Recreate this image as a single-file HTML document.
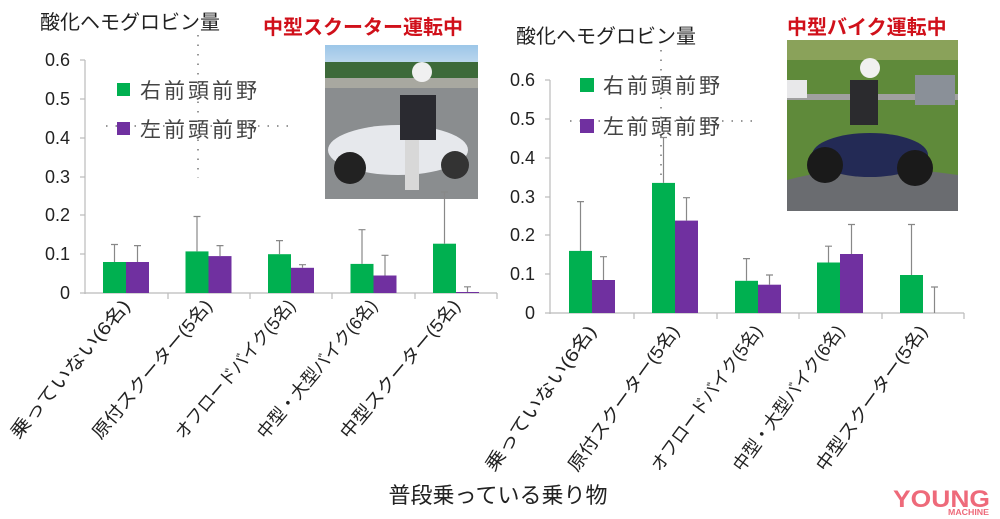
<!DOCTYPE html>
<html><head><meta charset="utf-8"><style>
html,body{margin:0;padding:0;background:#fff}
svg{display:block}
text{font-family:"Liberation Sans","Noto Sans CJK JP",sans-serif}
</style></head><body>
<svg width="1000" height="519" viewBox="0 0 1000 519" xmlns="http://www.w3.org/2000/svg">
<defs>
<linearGradient id="sky" x1="0" y1="0" x2="0" y2="1"><stop offset="0" stop-color="#9cc6e8"/><stop offset="1" stop-color="#c9def0"/></linearGradient>
</defs>
<line x1="198" y1="35" x2="198" y2="178" stroke="#777" stroke-width="1.5" stroke-dasharray="1.5,8"/>
<line x1="106" y1="126" x2="292" y2="126" stroke="#777" stroke-width="1.5" stroke-dasharray="1.5,8"/>
<line x1="661" y1="50" x2="661" y2="240" stroke="#777" stroke-width="1.5" stroke-dasharray="1.5,8"/>
<line x1="570" y1="121" x2="752" y2="121" stroke="#777" stroke-width="1.5" stroke-dasharray="1.5,8"/>

<text x="40" y="29" font-size="20" fill="#222">酸化ヘモグロビン量</text>
<text x="516" y="43" font-size="20" fill="#222">酸化ヘモグロビン量</text>
<text x="263" y="34" font-size="20" font-weight="bold" fill="#d0101a">中型スクーター運転中</text>
<text x="787" y="34" font-size="20" font-weight="bold" fill="#d0101a">中型バイク運転中</text>

<g>
<rect x="325" y="45" width="153" height="154" fill="#8a8d8f"/>
<rect x="325" y="45" width="153" height="25" fill="url(#sky)"/>
<rect x="325" y="62" width="153" height="16" fill="#3d6a3a"/>
<rect x="325" y="78" width="153" height="10" fill="#a8a8a0"/>
<ellipse cx="398" cy="150" rx="70" ry="25" fill="#e6e8ec"/>
<circle cx="350" cy="168" r="16" fill="#222"/>
<circle cx="455" cy="165" r="14" fill="#333"/>
<rect x="400" y="95" width="36" height="45" fill="#2a2a30"/>
<circle cx="422" cy="72" r="10" fill="#f0f0f0"/>
<rect x="405" y="140" width="14" height="50" fill="#d8d8d8"/>
</g>
<g>
<rect x="787" y="40" width="171" height="171" fill="#5f8a3a"/>
<rect x="787" y="40" width="171" height="20" fill="#8aa25a"/>
<rect x="787" y="94" width="171" height="6" fill="#a0a0a0"/>
<path d="M787 180 Q860 160 958 175 L958 211 L787 211 Z" fill="#6a6c70"/>
<rect x="787" y="80" width="20" height="18" fill="#e8e8ea"/>
<ellipse cx="870" cy="155" rx="58" ry="22" fill="#232a55"/>
<circle cx="825" cy="165" r="18" fill="#1a1a1a"/>
<circle cx="915" cy="168" r="18" fill="#1a1a1a"/>
<rect x="850" y="80" width="28" height="45" fill="#2b2b2e"/>
<circle cx="870" cy="68" r="10" fill="#f0f0f0"/>
<rect x="915" y="75" width="40" height="30" fill="#8a9098"/>
</g>

<rect x="117" y="83" width="13" height="13" fill="#00b050"/>
<text x="140" y="98" font-size="21" fill="#444" letter-spacing="3">右前頭前野</text>
<rect x="117" y="122" width="13" height="13" fill="#7030a0"/>
<text x="140" y="137" font-size="21" fill="#444" letter-spacing="3">左前頭前野</text>
<rect x="580" y="78" width="14" height="14" fill="#00b050"/>
<text x="603" y="93" font-size="21" fill="#444" letter-spacing="3">右前頭前野</text>
<rect x="580" y="119" width="14" height="14" fill="#7030a0"/>
<text x="603" y="134" font-size="21" fill="#444" letter-spacing="3">左前頭前野</text>

<g stroke="#bbb" stroke-width="1.2">
<line x1="85" y1="60" x2="85" y2="294"/>
<line x1="85" y1="293" x2="497" y2="293"/>
<line x1="80" y1="60" x2="85" y2="60"/><line x1="80" y1="99" x2="85" y2="99"/><line x1="80" y1="138" x2="85" y2="138"/><line x1="80" y1="177" x2="85" y2="177"/><line x1="80" y1="215" x2="85" y2="215"/><line x1="80" y1="254" x2="85" y2="254"/><line x1="80" y1="293" x2="85" y2="293"/>
<line x1="168" y1="293" x2="168" y2="299"/><line x1="250" y1="293" x2="250" y2="299"/><line x1="332" y1="293" x2="332" y2="299"/><line x1="415" y1="293" x2="415" y2="299"/><line x1="497" y1="293" x2="497" y2="299"/>
</g>
<g font-size="18" fill="#222" text-anchor="end">
<text x="70" y="66">0.6</text><text x="70" y="105">0.5</text><text x="70" y="144">0.4</text><text x="70" y="183">0.3</text><text x="70" y="221">0.2</text><text x="70" y="260">0.1</text><text x="70" y="299">0</text>
</g>
<g fill="#00b050">
<rect x="103" y="262" width="23" height="31"/>
<rect x="185.5" y="251.4" width="23" height="41.6"/>
<rect x="268" y="254.2" width="23" height="38.8"/>
<rect x="350.5" y="263.9" width="23" height="29.1"/>
<rect x="433" y="243.7" width="23" height="49.3"/>
</g>
<g fill="#7030a0">
<rect x="126" y="262" width="23" height="31"/>
<rect x="208.5" y="256.1" width="23" height="36.9"/>
<rect x="291" y="267.8" width="23" height="25.2"/>
<rect x="373.5" y="275.5" width="23" height="17.5"/>
<rect x="456" y="292" width="23" height="1"/>
</g>
<g stroke="#888" stroke-width="1.2">
<path d="M114.5 262V244.5M111 244.5h7"/>
<path d="M137.5 262V245.6M134 245.6h7"/>
<path d="M197 251.4V216.5M193.5 216.5h7"/>
<path d="M220 256.1V245.6M216.5 245.6h7"/>
<path d="M279.5 254.2V240.6M276 240.6h7"/>
<path d="M302.5 267.8V264.7M299 264.7h7"/>
<path d="M362 263.9V229.7M358.5 229.7h7"/>
<path d="M385 275.5V255.3M381.5 255.3h7"/>
<path d="M444.5 243.7V192M441 192h7"/>
<path d="M467.5 292V286.8M464 286.8h7"/>
</g>

<g stroke="#bbb" stroke-width="1.2">
<line x1="550" y1="80" x2="550" y2="314"/>
<line x1="550" y1="313" x2="964" y2="313"/>
<line x1="545" y1="80" x2="550" y2="80"/><line x1="545" y1="119" x2="550" y2="119"/><line x1="545" y1="158" x2="550" y2="158"/><line x1="545" y1="197" x2="550" y2="197"/><line x1="545" y1="235" x2="550" y2="235"/><line x1="545" y1="274" x2="550" y2="274"/><line x1="545" y1="313" x2="550" y2="313"/>
<line x1="634" y1="313" x2="634" y2="319"/><line x1="717" y1="313" x2="717" y2="319"/><line x1="799" y1="313" x2="799" y2="319"/><line x1="882" y1="313" x2="882" y2="319"/><line x1="964" y1="313" x2="964" y2="319"/>
</g>
<g font-size="18" fill="#222" text-anchor="end">
<text x="535" y="86">0.6</text><text x="535" y="125">0.5</text><text x="535" y="164">0.4</text><text x="535" y="203">0.3</text><text x="535" y="241">0.2</text><text x="535" y="280">0.1</text><text x="535" y="319">0</text>
</g>
<g fill="#00b050">
<rect x="569" y="250.9" width="23" height="62.1"/>
<rect x="652" y="182.9" width="23" height="130.1"/>
<rect x="735" y="280.8" width="23" height="32.2"/>
<rect x="817" y="262.5" width="23" height="50.5"/>
<rect x="900" y="275" width="23" height="38"/>
</g>
<g fill="#7030a0">
<rect x="592" y="280" width="23" height="33"/>
<rect x="675" y="220.6" width="23" height="92.4"/>
<rect x="758" y="284.7" width="23" height="28.3"/>
<rect x="840" y="254" width="23" height="59"/>
</g>
<g stroke="#888" stroke-width="1.2">
<path d="M580.5 250.9V201.6M577 201.6h7"/>
<path d="M603.5 280V256.7M600 256.7h7"/>
<path d="M663.5 182.9V137.5M660 137.5h7"/>
<path d="M686.5 220.6V197.7M683 197.7h7"/>
<path d="M746.5 280.8V258.6M743 258.6h7"/>
<path d="M769.5 284.7V275M766 275h7"/>
<path d="M828.5 262.5V246.2M825 246.2h7"/>
<path d="M851.5 254V224.5M848 224.5h7"/>
<path d="M911.5 275V224.5M908 224.5h7"/>
<path d="M934.5 313V287M931 287h7"/>
</g>

<g font-size="18" fill="#222" text-anchor="end">
<text transform="translate(131,306) rotate(-50)" textLength="175" lengthAdjust="spacingAndGlyphs">乗っていない(6名)</text>
<text transform="translate(213,306) rotate(-50)" textLength="175" lengthAdjust="spacingAndGlyphs">原付スクーター(5名)</text>
<text transform="translate(296,306) rotate(-50)" textLength="175" lengthAdjust="spacingAndGlyphs">オフロードバイク(5名)</text>
<text transform="translate(378,306) rotate(-50)" textLength="175" lengthAdjust="spacingAndGlyphs">中型・大型バイク(6名)</text>
<text transform="translate(461,306) rotate(-50)" textLength="175" lengthAdjust="spacingAndGlyphs">中型スクーター(5名)</text>
<text transform="translate(597,331) rotate(-54)" textLength="175" lengthAdjust="spacingAndGlyphs">乗っていない(6名)</text>
<text transform="translate(680,331) rotate(-54)" textLength="175" lengthAdjust="spacingAndGlyphs">原付スクーター(5名)</text>
<text transform="translate(763,331) rotate(-54)" textLength="175" lengthAdjust="spacingAndGlyphs">オフロードバイク(5名)</text>
<text transform="translate(845,331) rotate(-54)" textLength="175" lengthAdjust="spacingAndGlyphs">中型・大型バイク(6名)</text>
<text transform="translate(928,331) rotate(-54)" textLength="175" lengthAdjust="spacingAndGlyphs">中型スクーター(5名)</text>
</g>
<text x="498" y="503" font-size="22" fill="#222" text-anchor="middle">普段乗っている乗り物</text>

<text x="893" y="507" font-size="24" font-weight="bold" fill="#ee6a7a" textLength="97" lengthAdjust="spacingAndGlyphs">YOUNG</text>
<text x="948" y="515" font-size="8" font-weight="bold" fill="#ee6a7a" textLength="41" lengthAdjust="spacingAndGlyphs">MACHINE</text>
</svg>
</body></html>
